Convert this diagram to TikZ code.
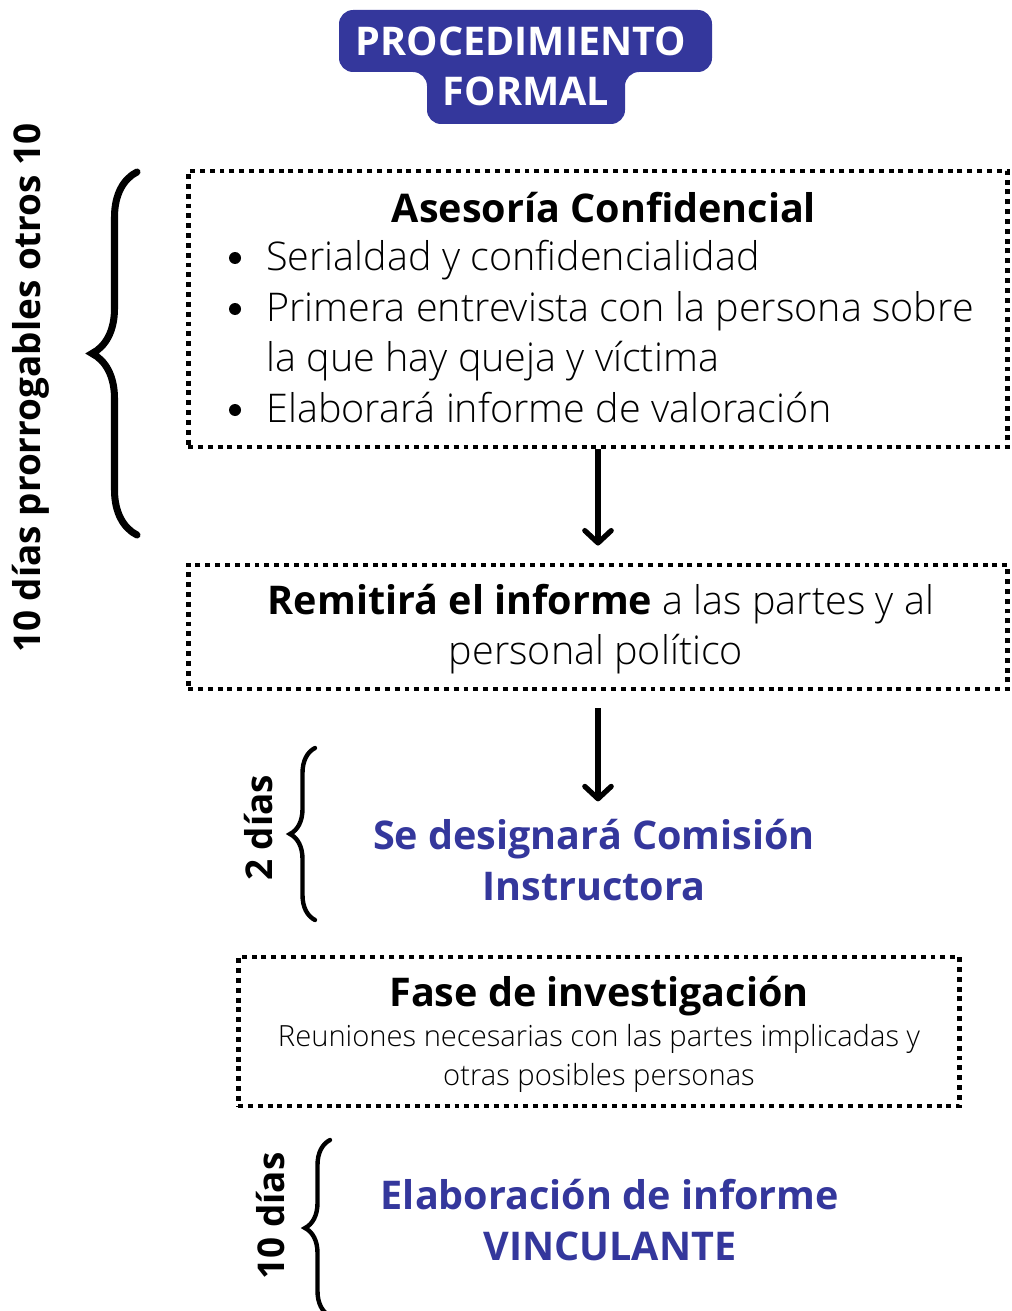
\documentclass[tikz,border=0pt]{standalone}
\usepackage{fontspec}
\setmainfont{Open Sans}
\newfontfamily\lightfont{Open Sans Light}
\usetikzlibrary{positioning}
\usetikzlibrary{arrows.meta}
\usetikzlibrary{decorations.pathreplacing}
\definecolor{titleblue}{RGB}{52,55,156}
\tikzset{
        dotbox/.style={draw, line width=2.8pt, dash pattern=on 2.8pt off 2.8pt},
        flow/.style={line width=3pt, -{Straight Barb[length=7pt, width=15pt, round]}},
        bigtext/.style={font=\fontsize{22.5}{28.6}\selectfont, inner sep=0pt},
        bodytext/.style={bigtext, font=\fontsize{22.5}{28.6}\selectfont\lightfont, anchor=base west},
        smalltext/.style={inner sep=0pt, font=\fontsize{16.6}{22}\selectfont\lightfont, anchor=base},
        headtext/.style={bigtext, font=\fontsize{22.5}{28.6}\selectfont\bfseries, anchor=base},
        bluetext/.style={headtext, text=titleblue},
        titletext/.style={headtext, text=white},
        sidetext/.style={bigtext, font=\fontsize{21}{28.6}\selectfont\bfseries, rotate=90},
        bracestyle/.style={decorate, line width=#1, line cap=round},
}
\begin{document}
\begin{tikzpicture}[x=0.02cm, y=-0.02cm]
      \useasboundingbox (0,0) rectangle (1011,1311);
      % TITLE
      \fill[titleblue, rounded corners=8pt] (339,10) -- (712,10) -- (712,72) -- (625,72)
        -- (625,124) -- (427,124) -- (427,72) -- (339,72) -- cycle;
      \node[titletext] (proc) at (521,56) {PROCEDIMIENTO};
      \node[titletext] (formal) at (526,106) {FORMAL};

      % ASESORIA CONFIDENCIAL
      \node[dotbox, minimum width=16.4cm, minimum height=5.52cm] (asesoria) at (598,309) {};
      \node[headtext] (asesoriahead) at (604,222) {Asesoría Confidencial};
      \node[bodytext] (item1) at (266,270) {Serialdad y confidencialidad};
      \node[bodytext] (item2) at (266,321) {Primera entrevista con la persona sobre};
      \node[bodytext] (item2b) at (266,371) {la que hay queja y víctima};
      \node[bodytext] (item3) at (266,422) {Elaborará informe de valoración};
      \foreach \i in {item1,item2,item3}
        \fill (\i.base west) ++(-31,-12) circle (6);

      % left brace
      \draw[bracestyle=4pt, decoration={brace, amplitude=0.9cm}] (137,535) -- (137,172);
      \node[sidetext] (prorroga) at (31,388) {10 días prorrogables otros 10};

      % REMITIRA EL INFORME
      \node[dotbox, minimum width=16.4cm, minimum height=2.48cm] (remitbox) at (598,627) {};
      \node[headtext] (remit1) at (601,614) {Remitirá el informe {\lightfont\mdseries a las partes y al}};
      \node[headtext, font=\fontsize{22.5}{28.6}\selectfont\lightfont] (remit2) at (596,664) {personal político};

      % COMISION INSTRUCTORA
      \node[bluetext] (comision) at (594,849) {Se designará Comisión};
      \node[bluetext] (instructora) at (594,900) {Instructora};
      \draw[bracestyle=2.5pt, decoration={brace, amplitude=0.5cm}] (315,920) -- (315,748);
      \node[sidetext] (dosdias) at (259,828) {2 días};

      % FASE DE INVESTIGACION
      \node[dotbox, minimum width=14.44cm, minimum height=2.98cm] (fase) at (599,1031.5) {};
      \node[headtext] (fasehead) at (599,1006) {Fase de investigación};
      \node[smalltext] (reuniones1) at (599,1046) {Reuniones necesarias con las partes implicadas y};
      \node[smalltext] (reuniones2) at (599,1085) {otras posibles personas};

      % INFORME VINCULANTE
      \node[bluetext] (elaboracion) at (610,1209) {Elaboración de informe};
      \node[bluetext] (vinculante) at (610,1260) {VINCULANTE};
      \draw[bracestyle=2.5pt, decoration={brace, amplitude=0.5cm}] (330,1316) -- (330,1140);
      \node[sidetext] (diezdias) at (271,1216) {10 días};

      % ARROWS
      \draw[flow, shorten >=0.34cm] (asesoria.south) -- (remitbox.north);
      \draw[flow, shorten <=0.34cm, shorten >=0.34cm] (remitbox.south) -- (remitbox.south |- comision.north);
\end{tikzpicture}
\end{document}
